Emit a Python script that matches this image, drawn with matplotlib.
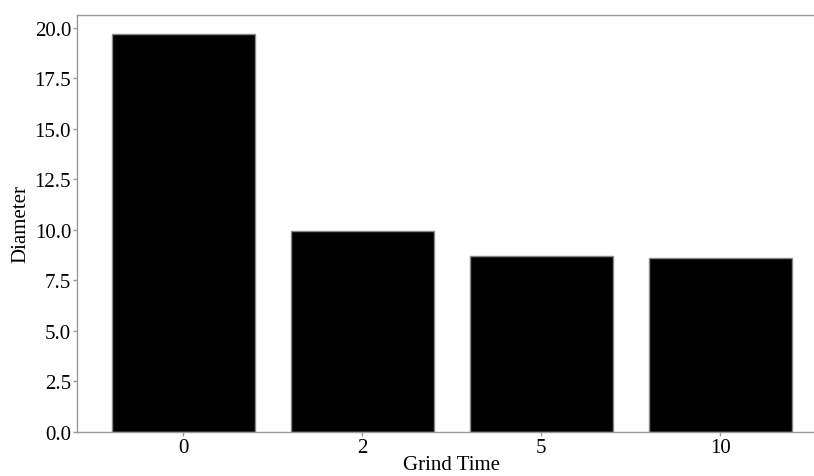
import matplotlib
matplotlib.use("Agg")
import matplotlib.pyplot as plt

grind_time = ["0", "2", "5", "10"]
diameter = [19.68, 9.93, 8.69, 8.63]


def main():
    plt.rcParams["font.family"] = ["Liberation Serif", "DejaVu Serif"]
    fig = plt.figure(figsize=(8.14, 4.77), dpi=100)
    ax = fig.add_axes([0.095, 0.0922, 0.920, 0.8753])
    x = range(len(grind_time))
    ax.bar(x, diameter, width=0.8, color="black", edgecolor="#888888", linewidth=1)
    ax.set_xticks(list(x))
    ax.set_xticklabels(grind_time)
    ax.set_xlim(-0.593, 3.593)
    ax.set_ylim(0, 20.66)
    yt = [0, 2.5, 5, 7.5, 10, 12.5, 15, 17.5, 20]
    ax.set_yticks(yt)
    ax.set_yticklabels([f"{v:.1f}" for v in yt])
    for s in ax.spines.values():
        s.set_color("#999999")
        s.set_linewidth(1)
    ax.tick_params(colors="#999999", labelcolor="black", labelsize=15, length=3, width=1, pad=1.5)
    ax.set_xlabel("Grind Time", fontsize=15, labelpad=-1.5)
    ax.set_ylabel("Diameter", fontsize=15, labelpad=3)
    fig.savefig("out.png", dpi=100)


if __name__ == "__main__":
    main()
